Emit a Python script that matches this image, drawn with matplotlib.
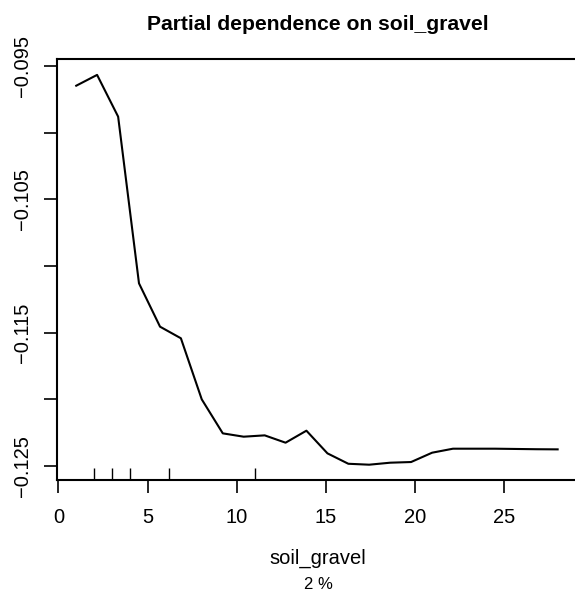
import matplotlib
matplotlib.use("Agg")
import matplotlib.pyplot as plt

plt.rcParams['font.family'] = ['Liberation Sans', 'DejaVu Sans']

# data
soil_gravel = [1.00, 2.17, 3.35, 4.52, 5.70, 6.87, 8.04, 9.22, 10.39, 11.57,
               12.74, 13.91, 15.09, 16.26, 17.43, 18.61, 19.78, 20.96, 22.13,
               23.30, 24.48, 25.65, 26.83, 28.00]
partial_dep = [-0.09648, -0.09567, -0.09880, -0.11130, -0.11455, -0.11542,
               -0.12000, -0.12255, -0.12280, -0.12270, -0.12325, -0.12235,
               -0.12405, -0.12483, -0.12490, -0.12475, -0.12470, -0.12400,
               -0.12370, -0.12370, -0.12370, -0.12372, -0.12374, -0.12375]
rug_values = [2.0, 3.0, 4.0, 6.2, 11.0]
x_ticks = [0, 5, 10, 15, 20, 25]
y_ticks = [-0.125, -0.120, -0.115, -0.110, -0.105, -0.100, -0.095]
y_tick_labels = ["\u22120.125", "", "\u22120.115", "", "\u22120.105", "", "\u22120.095"]
title = "Partial dependence on soil_gravel"
x_label = "soil_gravel"
sub_label = "2 %"

W, H = 575, 595
fig = plt.figure(figsize=(W / 100, H / 100), dpi=100)

xlim = (-0.08, 29.18)
ylim = (-0.12607, -0.0945)
px_per_x = 17.83
x0px = 58.4
left_px = x0px + xlim[0] * px_per_x
right_px = x0px + xlim[1] * px_per_x
top_px, bot_px = 59.3, 480.3
ax = fig.add_axes([left_px / W, 1 - bot_px / H, (right_px - left_px) / W,
                   (bot_px - top_px) / H])
ax.set_xlim(*xlim)
ax.set_ylim(*ylim)

ax.plot(soil_gravel, partial_dep, color='black', lw=1.5)
ax.vlines(rug_values, 0, 0.03, transform=ax.get_xaxis_transform(),
          color='black', lw=1.0)

for s in ax.spines.values():
    s.set_linewidth(1.5)

ax.set_xticks(x_ticks)
ax.set_xticklabels([str(v) for v in x_ticks], fontsize=14.5)
ax.set_yticks(y_ticks)
ax.set_yticklabels(y_tick_labels, fontsize=14.5, rotation=90, va='center')
ax.tick_params(axis='both', length=9.3, width=1.2, color='black')
ax.tick_params(axis='x', pad=10.8)
ax.tick_params(axis='y', pad=8.9)

cx = ((left_px + 579) / 2) / W
fig.text(cx, 1 - 29.5 / H, title, ha='center', va='baseline',
         fontsize=15.2, fontweight='bold')
fig.text(cx, 1 - 563.3 / H, x_label, ha='center', va='baseline', fontsize=14.5)
fig.text(cx, 1 - 589 / H, sub_label, ha='center', va='baseline', fontsize=12)

fig.savefig("out.png", dpi=100)
